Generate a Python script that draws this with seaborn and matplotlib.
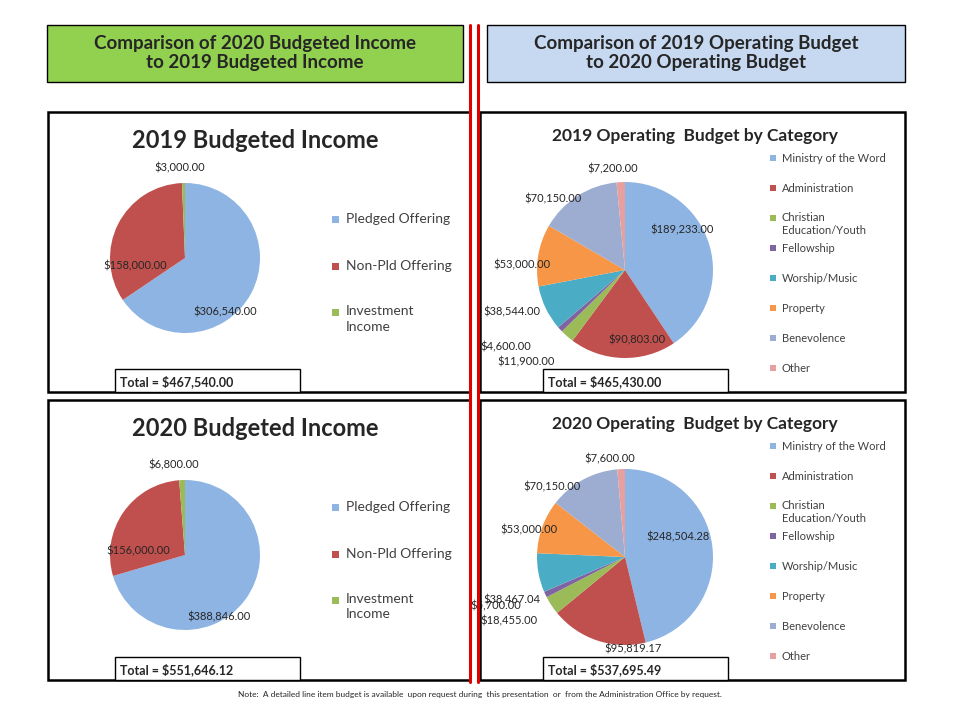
import matplotlib
matplotlib.use("Agg")
import matplotlib.pyplot as plt
from matplotlib.patches import Rectangle
import numpy as np
import seaborn as sns

sns.set_theme(style="white")
plt.rcParams['font.family'] = ['Lato', 'DejaVu Sans']

income_cats = ['Pledged Offering', 'Non-Pld Offering', 'Investment\nIncome']
income_2019 = [306540.00, 158000.00, 3000.00]
income_2020 = [388846.00, 156000.00, 6800.00]
income_colors = ['#8EB4E3', '#C0504D', '#9BBB59']

budget_cats = ['Ministry of the Word', 'Administration', 'Christian\nEducation/Youth',
               'Fellowship', 'Worship/Music', 'Property', 'Benevolence', 'Other']
budget_2019 = [189233.00, 90803.00, 11900.00, 4600.00, 38544.00, 53000.00, 70150.00, 7200.00]
budget_2020 = [248504.28, 95819.17, 18455.00, 5700.00, 38467.04, 53000.00, 70150.00, 7600.00]
budget_colors = ['#8EB4E3', '#C0504D', '#9BBB59', '#8064A2', '#4BACC6', '#F79646', '#9DADD2', '#E6A0A0']

W, H = 960, 720
fig = plt.figure(figsize=(9.6, 7.2), dpi=100)


def fx(x):
    return x / W


def fy(y):
    return 1 - y / H


def box(x0, y0, x1, y1, fc='none', lw=1.8, ec='black'):
    fig.patches.append(Rectangle((fx(x0), fy(y1)), (x1 - x0) / W, (y1 - y0) / H,
                                 transform=fig.transFigure, fc=fc, ec=ec, lw=lw))


# headers
box(47, 25, 463, 82, fc='#92D050', lw=1)
box(487, 25, 905, 82, fc='#C6D9F1', lw=1)
fig.text(fx(255), fy(53), 'Comparison of 2020 Budgeted Income\nto 2019 Budgeted Income',
         ha='center', va='center', fontsize=13.5, fontweight='bold', linespacing=1.1)
fig.text(fx(696), fy(53), 'Comparison of 2019 Operating Budget\nto 2020 Operating Budget',
         ha='center', va='center', fontsize=13.5, fontweight='bold', linespacing=1.1)

# red separators
for xr in (470, 478):
    fig.lines.append(plt.Line2D([fx(xr), fx(xr)], [fy(25), fy(682)], transform=fig.transFigure,
                                color='#E00000', lw=2.2))

# panels
box(48, 112, 470, 392)
box(480, 112, 905, 392)
box(48, 400, 470, 680)
box(480, 400, 905, 680)


def pie(cx, cy, r, vals, colors, dists, offs):
    ax = fig.add_axes([fx(cx - r), fy(cy + r), 2 * r / W, 2 * r / H])
    wedges, _ = ax.pie(vals, colors=colors, startangle=90, counterclock=False, radius=1,
                       wedgeprops=dict(linewidth=0))
    ax.set_xlim(-1, 1)
    ax.set_ylim(-1, 1)
    ax.set_aspect('equal')
    ax.axis('off')
    for w, v, d, o in zip(wedges, vals, dists, offs):
        a = np.deg2rad((w.theta1 + w.theta2) / 2)
        ax.text(d * np.cos(a) + o[0], d * np.sin(a) + o[1], f'${v:,.2f}',
                ha='center', va='center', fontsize=8)
    return ax


d_inc = [0.5, 0.75, 1.15]
pie(185, 258, 75, income_2019, income_colors, d_inc, [(0.1, -0.49), (0, -0.44), (-0.05, 0.05)])
pie(185, 555, 75, income_2020, income_colors, d_inc, [(0.05, -0.53), (0, -0.37), (-0.1, 0.05)])

d_bud = [0.6, 0.65, 1.25, 1.3, 1.2, 1.2, 1.2, 1.15]
offs19 = [(0.07, 0.28), (0.15, -0.15), (-0.3, -0.1), (-0.4, 0), (-0.2, 0.05),
          (0.01, -0.14), (-0.17, -0.2), (-0.08, 0)]
offs20 = [(0.01, 0.16), (0.3, -0.43), (-0.27, -0.04), (-0.29, 0), (-0.11, -0.27),
          (0.04, -0.11), (-0.25, -0.26), (-0.12, -0.03)]
pie(625, 270, 88, budget_2019, budget_colors, d_bud, offs19)
pie(625, 557, 88, budget_2020, budget_colors, d_bud, offs20)

# titles
for y, t in ((140, '2019 Budgeted Income'), (428, '2020 Budgeted Income')):
    fig.text(fx(255), fy(y), t, ha='center', va='center', fontsize=17, fontweight='bold')
for y, t in ((136, '2019 Operating  Budget by Category'), (424, '2020 Operating  Budget by Category')):
    fig.text(fx(695), fy(y), t, ha='center', va='center', fontsize=12.5, fontweight='bold')

# legends
for base in (0, 288):
    for i, (lab, c) in enumerate(zip(income_cats, income_colors)):
        y = 219 + base + i * 46.5
        fig.patches.append(Rectangle((fx(332), fy(y + 4)), 7 / W, 7 / H, transform=fig.transFigure,
                                     fc=c, ec='none'))
        if '\n' in lab:
            fig.text(fx(346), fy(y - 7), lab, ha='left', va='top', fontsize=10,
                     color='#404040', linespacing=1.35)
        else:
            fig.text(fx(346), fy(y), lab, ha='left', va='center', fontsize=10, color='#404040')
    for i, (lab, c) in enumerate(zip(budget_cats, budget_colors)):
        y = 158 + base + i * 30
        fig.patches.append(Rectangle((fx(770), fy(y + 3)), 6 / W, 6 / H, transform=fig.transFigure,
                                     fc=c, ec='none'))
        if '\n' in lab:
            fig.text(fx(782), fy(y - 6), lab, ha='left', va='top', fontsize=8, color='#404040')
        else:
            fig.text(fx(782), fy(y), lab, ha='left', va='center', fontsize=8, color='#404040')

# totals
totals = [(115, 369, 'Total = $467,540.00'), (543, 369, 'Total = $465,430.00'),
          (115, 657, 'Total = $551,646.12'), (543, 657, 'Total = $537,695.49')]
for x, y, t in totals:
    box(x, y, x + 185, y + 23, fc='white', lw=1)
    fig.text(fx(x + 5), fy(y + 13), t, ha='left', va='center', fontsize=9, fontweight='bold')

fig.text(0.5, fy(694), 'Note:  A detailed line item budget is available  upon request during  this presentation  or  from the Administration Office by request.',
         ha='center', va='center', fontsize=6)

fig.savefig('out.png', dpi=100)
